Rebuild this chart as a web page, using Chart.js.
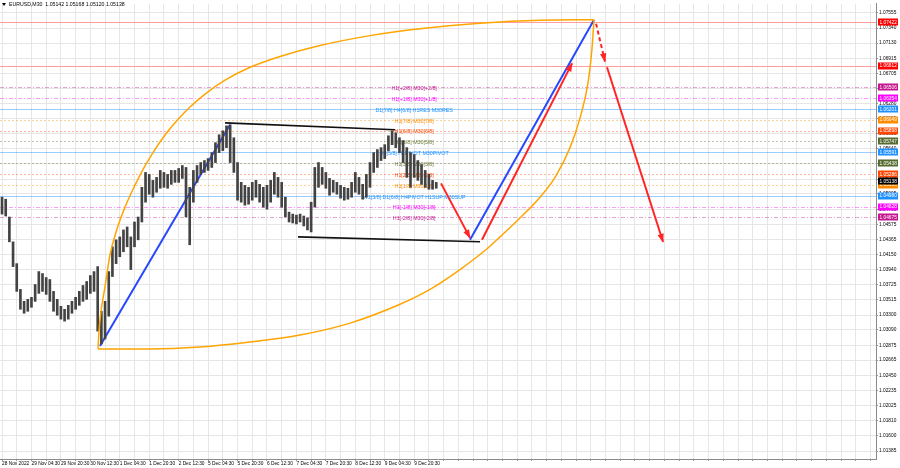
<!DOCTYPE html>
<html><head><meta charset="utf-8">
<script src="https://cdn.jsdelivr.net/npm/chart.js@4.4.1/dist/chart.umd.min.js"></script>
<style>html,body{margin:0;padding:0;background:#fff;overflow:hidden}#wrap{width:900px;height:468px}</style>
</head><body><div id="wrap"><canvas id="c" width="900" height="468"></canvas></div>
<script>
// ---- data ----
const symbolTitle = 'EURUSD,M30  1.05142 1.05168 1.05120 1.05138';
const timeLabels = ['28 Nov 2022','29 Nov 04:30','29 Nov 20:30','30 Nov 12:30','1 Dec 04:30','1 Dec 20:30','2 Dec 12:30','5 Dec 04:30','5 Dec 20:30','6 Dec 12:30','7 Dec 04:30','7 Dec 20:30','8 Dec 12:30','9 Dec 04:30','9 Dec 20:30'];
const priceTicks = [1.07555,1.07340,1.07130,1.06915,1.06705,1.06490,1.06280,1.06065,1.05855,1.05640,1.05430,1.05215,1.05005,1.04790,1.04575,1.04365,1.04150,1.03940,1.03725,1.03515,1.03300,1.03090,1.02875,1.02665,1.02450,1.02235,1.02025,1.01810,1.01600,1.01385];
const barsPerGroup = 4;
const groupHigh = [1.04959,1.04931,1.04680,1.04331,1.04024,1.03661,1.03493,1.03521,1.03549,1.03730,
1.03912,1.03884,1.03828,1.03800,1.03633,1.03521,1.03423,1.03381,1.03437,1.03493,
1.03549,1.03633,1.03716,1.03772,1.03856,1.03912,1.03982,1.03353,1.03493,1.03912,
1.04261,1.04359,1.04400,1.04498,1.04540,1.04400,1.04610,1.04680,1.05098,1.05308,
1.05280,1.05196,1.05238,1.05336,1.05308,1.05280,1.05336,1.05336,1.05364,1.05405,
1.05378,1.05098,1.05336,1.05405,1.05447,1.05475,1.05503,1.05587,1.05727,1.05838,
1.05894,1.05964,1.05978,1.05796,1.05447,1.05168,1.05126,1.05098,1.05168,1.05196,
1.05140,1.05098,1.05126,1.05196,1.05308,1.05238,1.05168,1.04959,1.04749,1.04721,
1.04707,1.04721,1.04694,1.04666,1.04889,1.05378,1.05447,1.05378,1.05308,1.05224,
1.05196,1.05168,1.05126,1.05098,1.05085,1.05168,1.05308,1.05238,1.05140,1.05280,
1.05447,1.05587,1.05629,1.05657,1.05699,1.05824,1.05894,1.05866,1.05796,1.05755,
1.05657,1.05587,1.05559,1.05475,1.05419,1.05336,1.05280,1.05196,1.05168];
const groupLow = [1.04721,1.04694,1.04331,1.03982,1.03633,1.03381,1.03325,1.03353,1.03409,1.03493,
1.03605,1.03633,1.03591,1.03493,1.03353,1.03297,1.03242,1.03214,1.03242,1.03325,
1.03381,1.03437,1.03493,1.03521,1.03605,1.03633,1.03074,1.02893,1.02963,1.03284,
1.03842,1.04024,1.04121,1.04191,1.04261,1.03940,1.04261,1.04359,1.04610,1.04889,
1.05001,1.04959,1.05029,1.05085,1.05098,1.05085,1.05140,1.05168,1.05168,1.05224,
1.04680,1.04289,1.04889,1.05168,1.05280,1.05308,1.05336,1.05378,1.05447,1.05587,
1.05615,1.05657,1.05447,1.05308,1.04917,1.04889,1.04847,1.04861,1.04917,1.04959,
1.04889,1.04819,1.04791,1.04889,1.05001,1.04959,1.04819,1.04680,1.04610,1.04596,
1.04582,1.04610,1.04554,1.04498,1.04470,1.04819,1.05098,1.05140,1.05085,1.04987,
1.05029,1.05001,1.04945,1.04917,1.04931,1.04959,1.05029,1.05001,1.04931,1.04959,
1.05098,1.05308,1.05378,1.05475,1.05503,1.05615,1.05699,1.05657,1.05587,1.05447,
1.05238,1.05098,1.05238,1.05196,1.05140,1.05098,1.05071,1.05071,1.05085];
const currentPrice = 1.05138;

// Murrey-style levels
const levelValues = [1.06506,1.06354,1.06201,1.06049,1.05898,1.05747,1.05591,1.05438,1.05286,1.05133,1.04980,1.04828,1.04675];
const levelNames = ['H1[+2/8] M30[+2/8]','H1[+1/8] M30[+1/8]','D1[7/8] H4[6/8] H1RES M30RES','H1[7/8] M30[7/8]','H1[6/8] M30[6/8]','H1[5/8] M30[5/8]','H4[5/8] H1PIVOT M30PIVOT','H1[3/8] M30[3/8]','H1[2/8] M30[2/8]','H1[1/8] M30[1/8]','W1[3/8] D1[6/8] H4PIVOT H1SUP M30SUP','H1[-1/8] M30[-1/8]','H1[-2/8] M30[-2/8]'];
const levelColors = ['#c4168f','#ff00ff','#1e90ff','#ff8c00','#ff4500','#556b2f','#1e90ff','#556b2f','#ff4500','#ff8c00','#1e90ff','#ff00ff','#c4168f'];
const levelLabelBar = 448;
const redLevels = [1.07422,1.06812];

// drawn objects (bar index, price)
const blueUp1Bar = [106.5,247.8], blueUp1Price = [1.02865,1.05978];
const blueUp2Bar = [508.7,643.5], blueUp2Price = [1.04359,1.07458];
const blackTopBar = [242.4,427.2], blackTopPrice = [1.06006,1.05908];
const blackBotBar = [321.7,519.6], blackBotPrice = [1.04400,1.04331];
const redDownBar = [477.2,508.7], redDownPrice = [1.05154,1.04386];
const redUpBar = [521.7,619.6], redUpPrice = [1.04359,1.06843];
const redDashBar = [645.7,655.4], redDashPrice = [1.07402,1.06871];
const redFallBar = [657.6,718.5], redFallPrice = [1.06788,1.04331];
const ellipseUpperBar = [104.3,105.4,107.6,112.0,117.4,125.0,133.7,142.4,153.3,164.1,175.0,188.0,204.3,220.7,242.4,269.6,302.2,345.7,400.0,454.3,519.6,584.8,643.5];
const ellipseUpperPrice = [1.02823,1.03074,1.03353,1.03702,1.04149,1.04512,1.04819,1.05071,1.05350,1.05587,1.05796,1.06006,1.06229,1.06411,1.06606,1.06788,1.06941,1.07095,1.07234,1.07332,1.07409,1.07451,1.07458];
const ellipseLowerBar = [104.3,160.9,215.2,269.6,323.9,378.3,432.6,465.2,497.8,527.2,541.3,563.0,584.8,601.1,617.4,628.3,636.9,641.3,643.5];
const ellipseLowerPrice = [1.02823,1.02823,1.02851,1.02921,1.03018,1.03186,1.03451,1.03661,1.03940,1.04233,1.04400,1.04666,1.04959,1.05238,1.05657,1.06076,1.06564,1.07053,1.07458];

// ---- build ----
const FONT = '"Liberation Sans", Arial, sans-serif';
const pts = (xs, ys) => xs.map((x, i) => ({x, y: ys[i]}));
const candles = groupHigh.map((h, i) => ({x: i * barsPerGroup, y: [groupLow[i], h]}));
const seg = (xs, ys, color, w, extra) => Object.assign({type:'line', data: pts(xs, ys), borderColor: color, borderWidth: w, pointRadius: 0, tension: 0, fill: false}, extra || {});

const datasets = [
  seg(ellipseUpperBar, ellipseUpperPrice, '#ffa500', 1.5, {cubicInterpolationMode: 'monotone'}),
  seg(ellipseLowerBar, ellipseLowerPrice, '#ffa500', 1.5, {cubicInterpolationMode: 'monotone'}),
  {type:'bar', data: candles, backgroundColor: '#434343', barThickness: 2, borderWidth: 0},
  seg(blackTopBar, blackTopPrice, '#111', 1.6),
  seg(blackBotBar, blackBotPrice, '#111', 1.6),
  seg(blueUp1Bar, blueUp1Price, '#2748ff', 2),
  seg(blueUp2Bar, blueUp2Price, '#2748ff', 2),
  seg(redDownBar, redDownPrice, '#ff2525', 2, {arrow: true}),
  seg(redUpBar, redUpPrice, '#ff2525', 2, {arrow: true}),
  seg(redDashBar, redDashPrice, '#ff2525', 2, {arrow: true, borderDash: [4, 3]}),
  seg(redFallBar, redFallPrice, '#ff2525', 2, {arrow: true})
];

const overlay = {
  id: 'overlay',
  beforeDatasetsDraw(chart) {
    const {ctx, chartArea: a, scales: {x, y}} = chart;
    ctx.save();
    ctx.beginPath(); ctx.rect(a.left, a.top, a.right - a.left, a.bottom - a.top); ctx.clip();
    redLevels.forEach(v => {
      const py = Math.round(y.getPixelForValue(v)) + 0.5;
      ctx.strokeStyle = '#ff9c9c'; ctx.lineWidth = 1; ctx.setLineDash([]);
      ctx.beginPath(); ctx.moveTo(a.left, py); ctx.lineTo(a.right, py); ctx.stroke();
    });
    levelValues.forEach((v, i) => {
      const py = Math.round(y.getPixelForValue(v)) + 0.5;
      const c = levelColors[i];
      const isBlue = c === '#1e90ff';
      ctx.strokeStyle = c; ctx.globalAlpha = isBlue ? 0.45 : 0.4; ctx.lineWidth = 1;
      ctx.setLineDash(isBlue ? [] : (c === '#ff00ff' || c === '#c4168f') ? [4, 2, 1, 2] : [2, 2]);
      ctx.beginPath(); ctx.moveTo(a.left, py); ctx.lineTo(a.right, py); ctx.stroke();
      ctx.globalAlpha = 1;
    });
    ctx.setLineDash([]);
    ctx.font = '5.3px ' + FONT; ctx.textAlign = 'center'; ctx.textBaseline = 'middle';
    const lx = x.getPixelForValue(levelLabelBar);
    levelValues.forEach((v, i) => {
      const py = y.getPixelForValue(v);
      ctx.fillStyle = levelColors[i] === '#556b2f' ? '#6b7a3a' : levelColors[i];
      ctx.fillText(levelNames[i], lx, py + 1.5);
    });
    ctx.restore();
  },
  afterDatasetsDraw(chart) {
    const {ctx} = chart;
    chart.data.datasets.forEach((ds, di) => {
      if (!ds.arrow) return;
      const els = chart.getDatasetMeta(di).data;
      const p1 = els[els.length - 2], p2 = els[els.length - 1];
      const ang = Math.atan2(p2.y - p1.y, p2.x - p1.x);
      const L = 8, W = 3.2;
      ctx.save();
      ctx.translate(p2.x, p2.y); ctx.rotate(ang);
      ctx.fillStyle = ds.borderColor;
      ctx.beginPath(); ctx.moveTo(1, 0); ctx.lineTo(-L, -W); ctx.lineTo(-L, W); ctx.closePath(); ctx.fill();
      ctx.restore();
    });
  },
  afterDraw(chart) {
    const {ctx, chartArea: a, scales: {y}} = chart;
    ctx.save();
    ctx.font = '4.8px ' + FONT; ctx.textBaseline = 'middle'; ctx.textAlign = 'left';
    const box = (v, bg, dy) => {
      const py = y.getPixelForValue(v) + (dy || 0);
      ctx.fillStyle = bg; ctx.fillRect(a.right + 2, Math.round(py) - 3.5, 20, 7);
      ctx.fillStyle = '#fff'; ctx.fillText(v.toFixed(5), a.right + 3.5, py + 0.3);
    };
    redLevels.forEach(v => box(v, '#ff0000'));
    levelValues.forEach((v, i) => box(v, levelColors[i]));
    box(currentPrice, '#000000', -3);
    // title
    ctx.fillStyle = '#000';
    ctx.beginPath(); ctx.moveTo(2, 3); ctx.lineTo(6, 3); ctx.lineTo(4, 6); ctx.closePath(); ctx.fill();
    ctx.font = '5.2px ' + FONT; ctx.fillText(symbolTitle, 9, 5);
    ctx.restore();
  }
};

new Chart(document.getElementById('c'), {
  type: 'line',
  data: {datasets},
  plugins: [overlay],
  options: {
    responsive: false, animation: false, devicePixelRatio: 1,
    layout: {padding: {left: 0, right: 0, top: 0, bottom: 0}},
    plugins: {legend: {display: false}, tooltip: {enabled: false}},
    scales: {
      x: {
        type: 'linear', min: -2.2, max: 950, offset: false,
        afterBuildTicks: s => { const t = []; for (let v = 0; v <= s.max; v += 16) t.push({value: v}); s.ticks = t; },
        afterFit: s => { s.height = 9; },
        grid: {color: '#e6e6e6', lineWidth: 1, offset: false, tickLength: 2, tickColor: '#999'},
        border: {display: true, color: '#8a8a8a'},
        ticks: {autoSkip: false, maxRotation: 0, minRotation: 0, align: 'start', padding: 0, color: '#000', font: {size: 4.8, family: FONT},
          callback: v => (v % 32 === 0 && timeLabels[v / 32]) ? timeLabels[v / 32] : ''}
      },
      y: {
        type: 'linear', position: 'right', min: 1.01273, max: 1.07681,
        afterBuildTicks: s => { s.ticks = priceTicks.map(v => ({value: v})); },
        afterFit: s => { s.width = 24; },
        grid: {color: '#e6e6e6', lineWidth: 1, tickLength: 2, tickColor: '#999'},
        border: {display: true, color: '#8a8a8a'},
        ticks: {padding: 1, color: '#000', font: {size: 4.8, family: FONT}, callback: v => v.toFixed(5)}
      }
    }
  }
});
</script>
</body></html>
